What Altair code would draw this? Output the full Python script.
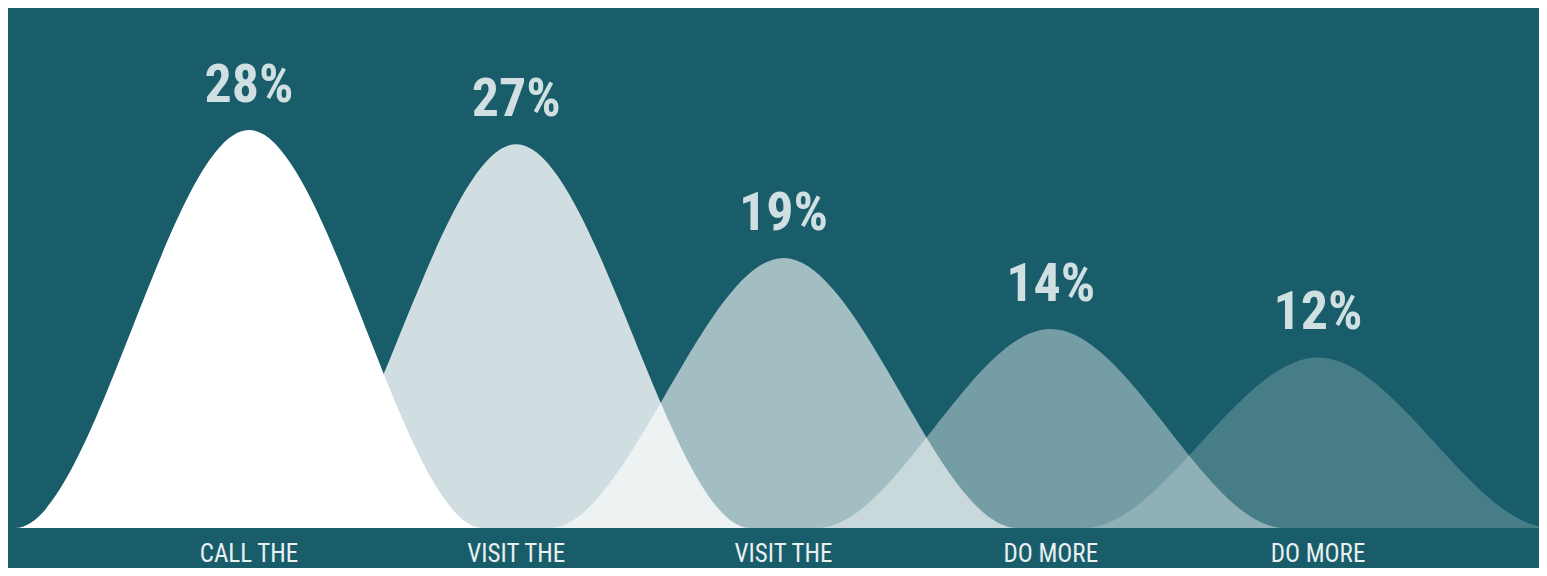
import altair as alt
import pandas as pd

# ---- data ----
categories = ["CALL THE", "VISIT THE", "VISIT THE", "DO MORE", "DO MORE"]
values = [28, 27, 19, 14, 12]
value_labels = ["28%", "27%", "19%", "14%", "12%"]
opacities = [1.0, 0.8, 0.6, 0.4, 0.2]

# ---- layout constants ----
BG = "#1a5d6a"
W, H = 1531, 560
PX_PER_UNIT_X = 267.25
X0 = -241 / PX_PER_UNIT_X
X1 = X0 + W / PX_PER_UNIT_X
PX_PER_UNIT_Y = 398 / 28
Y0 = -(H - 520) / PX_PER_UNIT_Y
Y1 = Y0 + H / PX_PER_UNIT_Y
HALF = 0.8756  # half width of each hump, in category units

# hump outline: baseline, peak, baseline (monotone interpolation)
rows = []
for i, (v, op) in enumerate(zip(values, opacities)):
    for dx, yy in [(-1.3, 0), (-HALF, 0), (0, v), (HALF, 0), (1.3, 0)]:
        rows.append({"s": i, "x": i + dx, "y": yy, "op": op})
curves = pd.DataFrame(rows)

labels = pd.DataFrame({
    "x": list(range(len(values))),
    "v": values,
    "lab": value_labels,
    "cat": categories,
})

xs = alt.Scale(domain=[X0, X1], nice=False, zero=False)
ys = alt.Scale(domain=[Y0, Y1], nice=False, zero=False)

FONT = "Roboto Condensed, Liberation Sans Narrow, DejaVu Sans Condensed, Roboto"

areas = alt.Chart(curves).mark_area(
    interpolate="monotone", color="white", clip=True
).encode(
    x=alt.X("x:Q", scale=xs, axis=None),
    y=alt.Y("y:Q", scale=ys, axis=None, stack=None),
    opacity=alt.Opacity("op:Q", scale=None),
    detail="s:O",
)

pct = alt.Chart(labels).mark_text(
    font=FONT, fontWeight="bold", fontSize=54, color="#d0dfe2",
    baseline="alphabetic", align="center", dy=-28,
).encode(
    x=alt.X("x:Q", scale=xs, axis=None),
    y=alt.Y("v:Q", scale=ys, axis=None),
    text="lab:N",
)

cats = alt.Chart(labels).mark_text(
    font=FONT, fontSize=25, color="#e8f0f1",
    baseline="top", align="center", dy=14,
).encode(
    x=alt.X("x:Q", scale=xs, axis=None),
    y=alt.Y("zero:Q", scale=ys, axis=None),
    text="cat:N",
).transform_calculate(zero="0")

chart = alt.layer(areas, pct, cats).properties(
    width=W, height=H,
    autosize=alt.AutoSizeParams(type="none"),
    padding=0,
    background=BG,
).configure_view(stroke=None, fill=BG)

chart.save("out.html", embed_options={"renderer": "svg", "actions": False})
